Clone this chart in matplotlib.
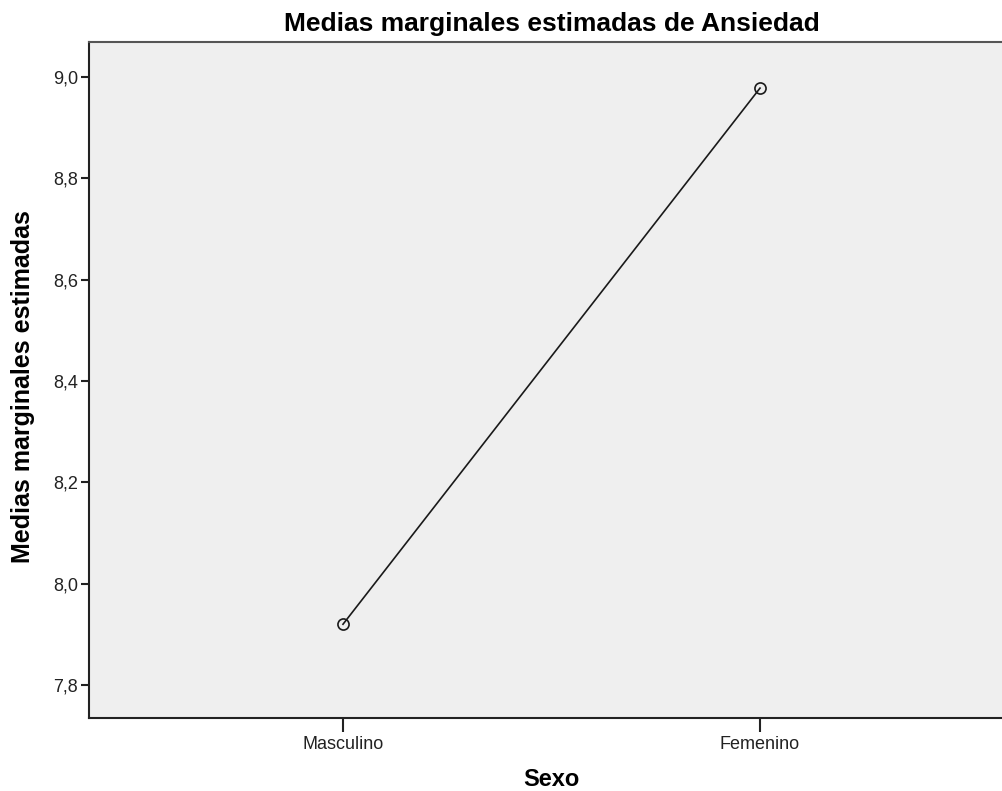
import matplotlib.pyplot as plt
from matplotlib.ticker import FuncFormatter

# Datos
sexo = ['Masculino', 'Femenino']
medias = [7.92, 8.978]
y_ticks = [7.8, 8.0, 8.2, 8.4, 8.6, 8.8, 9.0]

plt.rcParams['font.family'] = ['Liberation Sans', 'DejaVu Sans']

fig = plt.figure(figsize=(10.02, 7.91), dpi=100)
# el área del gráfico se sale por la derecha, como en la imagen original
ax = fig.add_axes([89 / 1002, 73 / 791, 925 / 1002, 676 / 791])
ax.set_facecolor('#efefef')

x = list(range(len(sexo)))
ax.plot(x, medias, color='#1a1a1a', linewidth=1.2, marker='o', markersize=8,
        markerfacecolor='none', markeredgecolor='#1a1a1a', markeredgewidth=1.2)

ax.set_xlim(-0.609, 1.609)
ax.set_ylim(7.735, 9.069)
ax.set_xticks(x)
ax.set_xticklabels(sexo)
ax.set_yticks(y_ticks)
ax.yaxis.set_major_formatter(FuncFormatter(lambda v, p: f'{v:.1f}'.replace('.', ',')))

ax.tick_params(axis='y', direction='out', length=6, width=1.5, labelsize=13, colors='#222222', pad=2)
ax.tick_params(axis='x', direction='out', length=10, width=1.5, labelsize=13, colors='#222222', pad=3)
for s in ax.spines.values():
    s.set_linewidth(1.5)
    s.set_color('#222222')
ax.spines['top'].set_color('#555555')

ax.set_title('Medias marginales estimadas de Ansiedad', fontsize=19, fontweight='bold', pad=8)
ax.set_xlabel('Sexo', fontsize=17, fontweight='bold', labelpad=11)
ax.set_ylabel('Medias marginales estimadas', fontsize=18, fontweight='bold')
ax.yaxis.set_label_coords(-0.058, 0.49)

fig.savefig('out.png', dpi=100)
